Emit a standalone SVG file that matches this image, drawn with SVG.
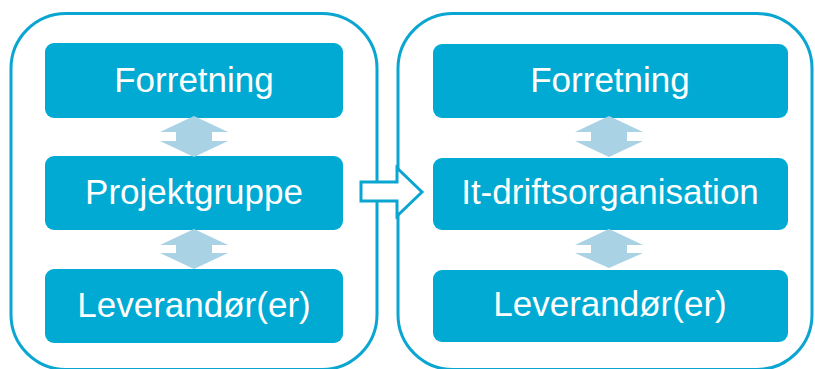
<svg xmlns="http://www.w3.org/2000/svg" width="815" height="369" viewBox="0 0 815 369">
<style>
.outer{fill:none;stroke:#0aa6d1;stroke-width:3}
.box{fill:#00aad3}
.lbl{font-family:"Liberation Sans",Arial,sans-serif;font-size:35px;fill:#ffffff;text-anchor:middle}
.dbl{fill:#a9d2e4}
.blk{fill:#ffffff;stroke:#0aa6d1;stroke-width:3;stroke-linejoin:miter}
</style>
<rect width="815" height="369" fill="#ffffff"/>
<g id="group-left">
<rect class="outer" x="11" y="13.5" width="366" height="356" rx="55" ry="55"/>
</g>
<g id="group-right">
<rect class="outer" x="398" y="13.5" width="414" height="356" rx="55" ry="55"/>
</g>
<g id="n-forretning-l"><rect class="box" x="45" y="43" width="298" height="75" rx="9"/><text class="lbl" x="194" y="92">Forretning</text></g>
<g id="n-projektgruppe"><rect class="box" x="45" y="156" width="298" height="74" rx="9"/><text class="lbl" x="194" y="204">Projektgruppe</text></g>
<g id="n-leverandor-l"><rect class="box" x="45" y="269" width="298" height="74" rx="9"/><text class="lbl" x="194" y="317">Leverandør(er)</text></g>
<g id="n-forretning-r"><rect class="box" x="433" y="44" width="355" height="74" rx="9"/><text class="lbl" x="610" y="92">Forretning</text></g>
<g id="n-itdrift"><rect class="box" x="433" y="158" width="355" height="72" rx="9"/><text class="lbl" x="610" y="204">It-driftsorganisation</text></g>
<g id="n-leverandor-r"><rect class="box" x="433" y="270" width="355" height="72" rx="9"/><text class="lbl" x="610" y="316">Leverandør(er)</text></g>
<g id="connectors">
<polygon class="dbl" points="194,116 228,132 212,132 212,141 228,141 194,157 160,141 176,141 176,132 160,132"/>
<polygon class="dbl" points="194,229 228,245 212,245 212,253 228,253 194,269 160,253 176,253 176,245 160,245"/>
<polygon class="dbl" points="609,116 643,132 627,132 627,141 643,141 609,157 575,141 591,141 591,132 575,132"/>
<polygon class="dbl" points="609,229 643,245 627,245 627,253 643,253 609,268 575,253 591,253 591,245 575,245"/>
<polygon class="blk" points="361,182 397,182 397,168 422,192 397,216 397,201 361,201"/>
</g>
</svg>
